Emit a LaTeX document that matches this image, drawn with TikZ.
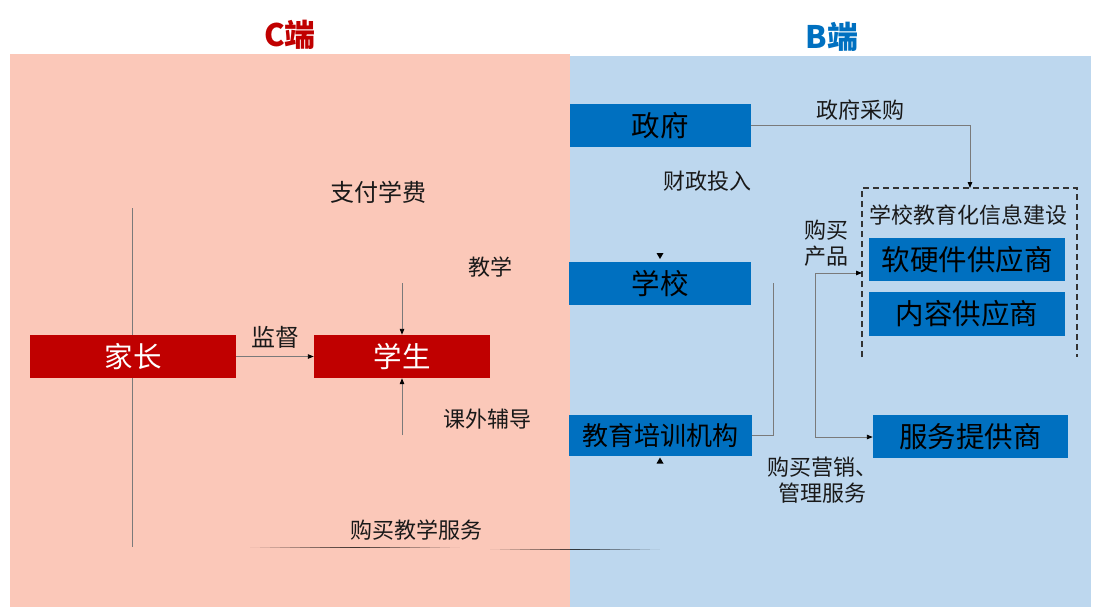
\documentclass[tikz,border=0pt]{standalone}
\usepackage{fontspec}
\setmainfont{Noto Sans CJK SC}
\usetikzlibrary{arrows.meta}
\definecolor{cpink}{HTML}{FBC8B9}
\definecolor{bblue}{HTML}{BDD7EE}
\definecolor{cred}{HTML}{C00000}
\definecolor{dblue}{HTML}{0070C0}
\definecolor{lgray}{HTML}{7A7A7A}
\begin{document}
\begin{tikzpicture}[x=1pt,y=-1pt,
  boxtext/.style={font=\fontsize{28.5}{32}\selectfont},
  redbox/.style={boxtext,fill=cred,text=white,minimum height=43pt,inner sep=0pt},
  bluebox/.style={boxtext,fill=dblue,text=black,minimum height=43pt,inner sep=0pt},
  lbl/.style={font=\fontsize{22}{26}\selectfont,text=black!90,inner sep=0pt,align=center},
  biglbl/.style={lbl,font=\fontsize{24}{28}\selectfont},
  ttl/.style={font=\fontsize{31}{34}\selectfont\bfseries,inner sep=0pt},
  conn/.style={draw=lgray,line width=0.9pt},
  arr/.style={conn,-{Triangle[length=6pt,width=4.5pt,color=black]}},
  tip/.style={fill=black}]
\useasboundingbox (0,0) rectangle (1097,607);
% panels
\fill[cpink] (10,54) rectangle (570,607);
\fill[bblue] (570,56) rectangle (1091,607);
% titles
\node[ttl,text=cred] (tc) at (290,35) {C端};
\node[ttl,text=dblue] (tb) at (832,37) {B端};
% long vertical line behind parents box
\coordinate (v1) at (132,208);
\coordinate (v2) at (132,547);
\draw[conn] (v1) -- (v2);
% faded bottom lines
\coordinate (h1) at (250,547);
\coordinate (h2) at (490,549);
\foreach \i in {0,...,20} {
  \pgfmathsetmacro\op{0.75*(1-abs(\i-10)/10.5)}
  \draw[black,draw opacity=\op,line width=1pt] ([xshift=\i*10pt]h1) -- ([xshift=\i*10pt+10pt]h1);
}
\foreach \i in {0,...,16} {
  \pgfmathsetmacro\op{0.75*(1-abs(\i-8)/8.5)}
  \draw[black,draw opacity=\op,line width=1pt] ([xshift=\i*10pt]h2) -- ([xshift=\i*10pt+10pt]h2);
}
% C side nodes
\node[redbox,minimum width=206pt] (jz) at (133,356.5) {家长};
\node[redbox,minimum width=176pt] (xs) at (402,356.5) {学生};
\draw[arr] (jz.east) -- (xs.west) node[biglbl,midway,above=8pt] (jd) {监督};
\coordinate (jxtop) at (402,283);
\coordinate (kwbot) at (402,435);
\draw[arr] (jxtop) -- (xs.north);
\draw[arr] (kwbot) -- (xs.south);
\node[lbl] (ljx) at (490,267) {教学};
\node[lbl] (lkw) at (487,419) {课外辅导};
\node[biglbl] (lzf) at (378,192) {支付学费};
\node[lbl] (lgm) at (416,530) {购买教学服务};
% B side nodes
\node[bluebox,minimum width=181pt] (zf) at (660,125.5) {政府};
\node[bluebox,minimum width=182pt] (xx) at (660,283.5) {学校};
\node[bluebox,minimum width=183pt,minimum height=41pt,font=\fontsize{26}{30}\selectfont] (jy) at (660.5,435.5) {教育培训机构};
\node[bluebox,minimum width=196pt] (ry) at (967,259.5) {软硬件供应商};
\node[bluebox,minimum width=196pt,minimum height=44pt] (nr) at (967,314) {内容供应商};
\node[bluebox,minimum width=195pt] (fw) at (970.5,436.5) {服务提供商};
% dashed group
\coordinate (dbl) at (862,357);
\coordinate (dtl) at (862,188);
\coordinate (dtr) at (1077,188);
\coordinate (dbr) at (1077,357);
\draw[line width=1.1pt,draw=black!80,dash pattern=on 6pt off 4pt] (dbl) -- (dtl) -- (dtr) -- (dbr);
\node[lbl] (lxx) at (968,215) {学校教育化信息建设};
% gov procurement
\coordinate (dt) at (970,188);
\draw[arr] (zf.east) -| (dt);
\node[lbl] (lcg) at (860,110) {政府采购};
\node[lbl] (lcz) at (707,181) {财政投入};
% small stray arrow tips
\fill[tip] (656.5,253) -- (663.5,253) -- (660,259) -- cycle;
\fill[tip] (656.5,463.5) -- (663.5,463.5) -- (660,457.5) -- cycle;
% training org line
\coordinate (c773) at (773,283);
\draw[conn] (jy.east) -| (c773);
% purchase lines
\coordinate (pt) at (815,273);
\coordinate (pb) at (815,437);
\coordinate (dl) at (862,273);
\draw[arr] (pb) -- (pt) -- (dl);
\draw[arr] (pb) -- (fw.west |- pb);
\node[lbl] (lcp) at (826,243) {购买\\产品};
\node[lbl] (lyx) at (822,480) {购买营销、\\管理服务};
\end{tikzpicture}
\end{document}
